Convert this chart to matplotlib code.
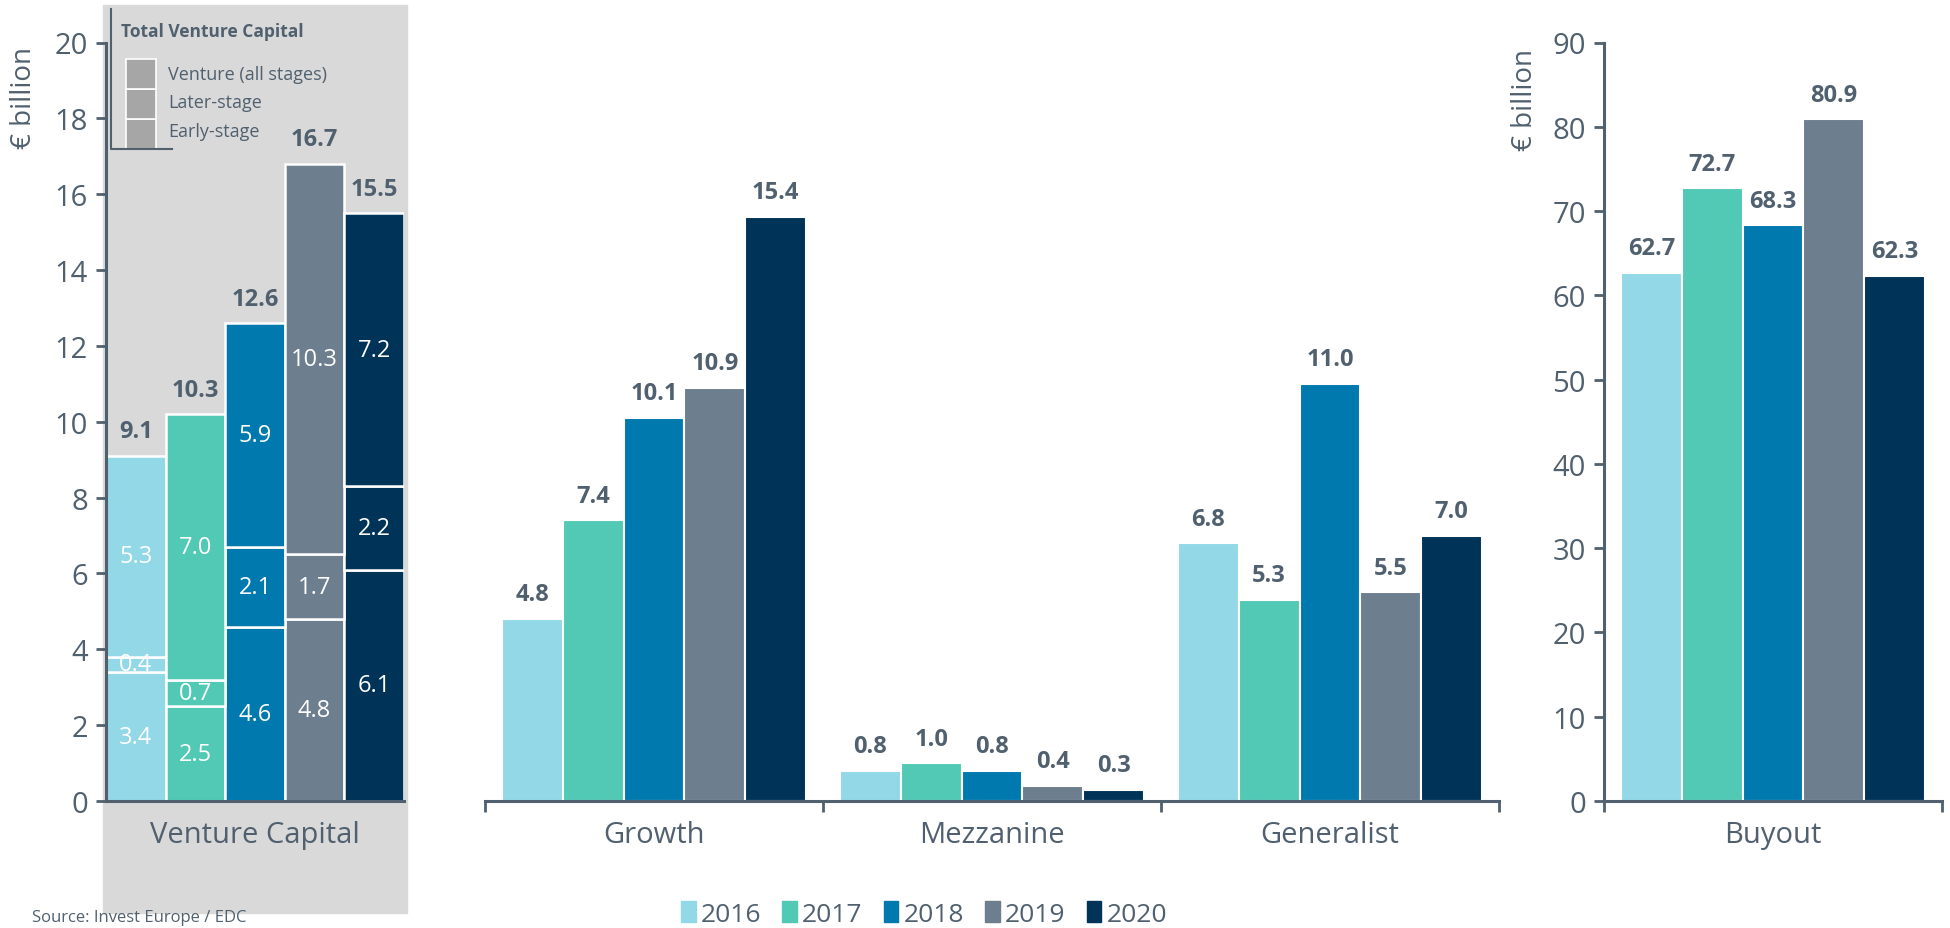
import matplotlib.pyplot as plt
from matplotlib.patches import Rectangle
from matplotlib.lines import Line2D
import numpy as np

# Data
years = ["2016", "2017", "2018", "2019", "2020"]
colors = ["#92d8e7", "#52c9b4", "#0079ae", "#6d7e8e", "#003358"]

stage_names = ["Early-stage", "Later-stage", "Venture (all stages)"]
early_stage = [3.4, 2.5, 4.6, 4.8, 6.1]
later_stage = [0.4, 0.7, 2.1, 1.7, 2.2]
venture_all = [5.3, 7.0, 5.9, 10.3, 7.2]
vc_totals = [9.1, 10.3, 12.6, 16.7, 15.5]

mid_categories = ["Growth", "Mezzanine", "Generalist"]
growth = [4.8, 7.4, 10.1, 10.9, 15.4]
mezzanine = [0.8, 1.0, 0.8, 0.4, 0.3]
generalist = [6.8, 5.3, 11.0, 5.5, 7.0]

buyout = [62.7, 72.7, 68.3, 80.9, 62.3]

left_ticks = list(range(0, 21, 2))
right_ticks = list(range(0, 91, 10))

TXT = "#50606f"
W, H = 1950, 929
plt.rcParams['font.family'] = ['Open Sans', 'DejaVu Sans']


def fx(x):
    return x / W


def fy(y):
    return 1 - y / H


def rect(x0, y0, x1, y1):
    return [fx(x0), fy(y1), (x1 - x0) / W, (y1 - y0) / H]


def style_axis(ax):
    for s in ["top", "right"]:
        ax.spines[s].set_visible(False)
    for s in ["left", "bottom"]:
        ax.spines[s].set_color(TXT)
        ax.spines[s].set_linewidth(2.2)
    ax.tick_params(axis="y", colors=TXT, labelsize=21, length=7, width=2, pad=6)
    ax.set_facecolor("none")


def label_above(ax, x, h, text):
    ax.annotate(text, (x, h), xytext=(0, 9), textcoords="offset points",
                ha="center", va="bottom", fontsize=17, fontweight="bold", color=TXT)


fig = plt.figure(figsize=(W / 100, H / 100), dpi=100)

# grey background behind the venture capital panel
fig.add_artist(Rectangle((fx(103), fy(914)), 304 / W, 908 / H,
                         transform=fig.transFigure, color="#d9d9d9", zorder=0))

# ---- Left panel: stacked venture capital
ax1 = fig.add_axes(rect(106, 43.5, 404, 802))
style_axis(ax1)
x = np.arange(len(years))
bottom = np.zeros(len(years))
for seg in [early_stage, later_stage, venture_all]:
    seg = np.array(seg)
    ax1.bar(x, seg, 1.0, bottom=bottom, color=colors, edgecolor="white", linewidth=1.8)
    for xi, b, v in zip(x, bottom, seg):
        ax1.text(xi, b + v / 2, f"{v:.1f}", ha="center", va="center",
                 fontsize=17, color="white")
    bottom = bottom + seg
for xi, b, t in zip(x, bottom, vc_totals):
    label_above(ax1, xi, b, f"{t:.1f}")
ax1.set_xlim(-0.5, 4.5)
ax1.set_ylim(0, 20)
ax1.set_yticks(left_ticks)
ax1.set_xticks([2])
ax1.set_xticklabels(["Venture Capital"], fontsize=21, color=TXT)
ax1.tick_params(axis="x", length=0, pad=14)
fig.text(fx(24), fy(98), "€ billion", rotation=90, ha="center", va="center",
         fontsize=20, color=TXT)

# ---- Middle panel
ax2 = fig.add_axes(rect(485, 43.5, 1499, 802))
style_axis(ax2)
ax2.spines["left"].set_visible(False)
bw = 0.18
gx = np.arange(len(mid_categories))
mid_values = np.array([growth, mezzanine, generalist])
for i in range(len(years)):
    xs = gx + (i - 2) * bw
    vals = mid_values[:, i]
    ax2.bar(xs, vals, bw, color=colors[i], edgecolor="white", linewidth=1.5)
    for xv, v in zip(xs, vals):
        label_above(ax2, xv, v, f"{v:.1f}")
ax2.set_xlim(-0.5, 2.5)
ax2.set_ylim(0, 20)
ax2.set_yticks([])
ax2.set_xticks(gx)
ax2.set_xticklabels(mid_categories, fontsize=21, color=TXT)
ax2.set_xticks([-0.5, 0.5, 1.5, 2.5], minor=True)
ax2.tick_params(axis="x", which="major", length=0, pad=14)
ax2.tick_params(axis="x", which="minor", length=8, width=2, color=TXT, direction="out")

# ---- Right panel: buyout
ax3 = fig.add_axes(rect(1604, 43.5, 1942, 802))
style_axis(ax3)
for i, v in enumerate(buyout):
    xv = (i - 2) * bw
    ax3.bar(xv, v, bw, color=colors[i], edgecolor="white", linewidth=1.5)
    label_above(ax3, xv, v, f"{v:.1f}")
ax3.set_xlim(-0.5, 0.5)
ax3.set_ylim(0, 90)
ax3.set_yticks(right_ticks)
ax3.set_xticks([0])
ax3.set_xticklabels(["Buyout"], fontsize=21, color=TXT)
ax3.set_xticks([-0.5, 0.5], minor=True)
ax3.tick_params(axis="x", which="major", length=0, pad=14)
ax3.tick_params(axis="x", which="minor", length=8, width=2, color=TXT, direction="out")
fig.text(fx(1525), fy(100), "€ billion", rotation=90, ha="center", va="center",
         fontsize=20, color=TXT)

# ---- Inset legend for the venture stages
fig.add_artist(Line2D([fx(111), fx(111), fx(172)], [fy(10), fy(150), fy(150)],
                      transform=fig.transFigure, color=TXT, lw=1.5))
fig.text(fx(121), fy(32), "Total Venture Capital", fontsize=12.5, fontweight="bold",
         color=TXT, va="center")
item_y = [132, 103, 75]
for k, name in enumerate(stage_names):
    top = 120 - 30 * k
    fig.add_artist(Rectangle((fx(126), fy(top + 30)), 30 / W, 30 / H,
                             transform=fig.transFigure, facecolor="#a6a6a6",
                             edgecolor="white", lw=1.2))
    fig.text(fx(168), fy(item_y[k]), name, fontsize=13, color=TXT, va="center")

# ---- Year legend
handles = [Rectangle((0, 0), 1, 1, color=c) for c in colors]
fig.legend(handles, years, loc="center", bbox_to_anchor=(fx(924), fy(915)), ncol=5,
           frameon=False, fontsize=19, handlelength=0.55, handleheight=0.8,
           handletextpad=0.2, columnspacing=0.8, labelcolor=TXT)

fig.text(fx(32), fy(926), "Source: Invest Europe / EDC", fontsize=12, color=TXT, va="bottom")

fig.savefig("out.png", dpi=100)
